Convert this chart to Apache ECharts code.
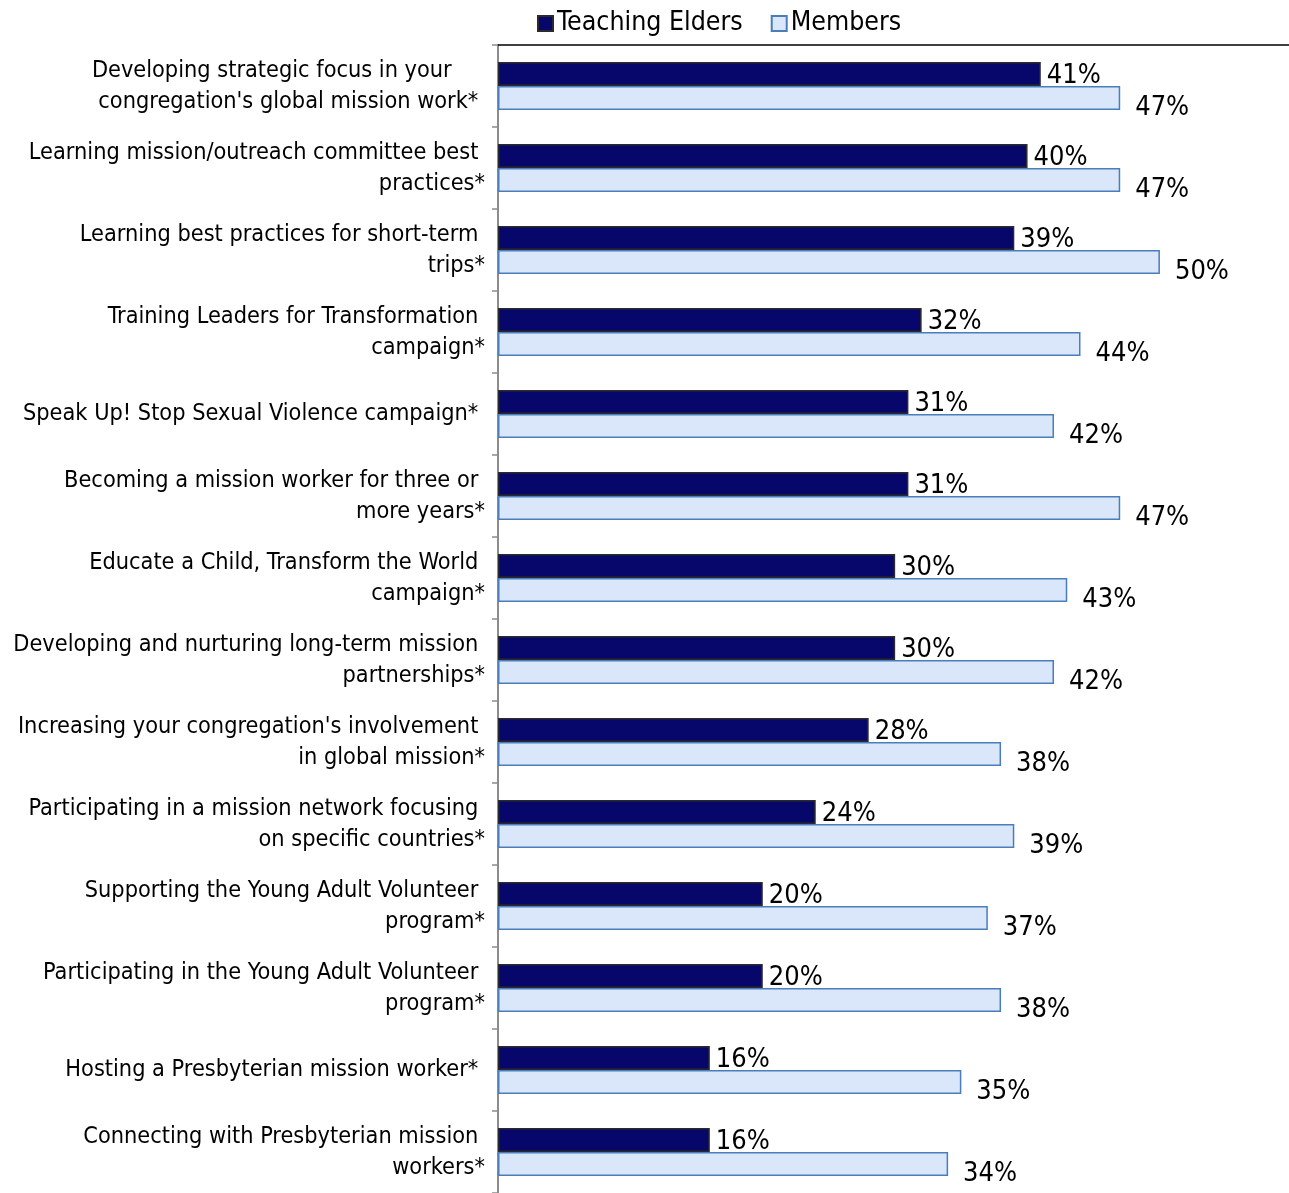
<!DOCTYPE html>
<html>
<head>
<meta charset="utf-8">
<script src="https://cdn.jsdelivr.net/npm/echarts@6/dist/echarts.min.js"></script>
<style>
  html, body { margin: 0; padding: 0; background: #ffffff; }
  #chart { width: 1289px; height: 1193px; }
</style>
</head>
<body>
<div id="chart"></div>
<script>
// Survey topics (top to bottom)
const categories = [
  "Developing strategic focus in your     \ncongregation's global mission work* ",
  "Learning mission/outreach committee best \npractices*",
  "Learning best practices for short-term \ntrips*",
  "Training Leaders for Transformation \ncampaign*",
  "Speak Up! Stop Sexual Violence campaign* ",
  "Becoming a mission worker for three or \nmore years*",
  "Educate a Child, Transform the World \ncampaign*",
  "Developing and nurturing long-term mission \npartnerships*",
  "Increasing your congregation's involvement \nin global mission*",
  "Participating in a mission network focusing \non specific countries*",
  "Supporting the Young Adult Volunteer \nprogram*",
  "Participating in the Young Adult Volunteer \nprogram*",
  "Hosting a Presbyterian mission worker* ",
  "Connecting with Presbyterian mission \nworkers*"
];

// Percent of respondents, per group
const teachingElders = [41, 40, 39, 32, 31, 31, 30, 30, 28, 24, 20, 20, 16, 16];
const members        = [47, 47, 50, 44, 42, 47, 43, 42, 38, 39, 37, 38, 35, 34];

const seriesNames = ["Teaching Elders", "Members"];

const FONT = "'DejaVu Sans Condensed', 'DejaVu Sans', Tahoma, sans-serif";

const chart = echarts.init(document.getElementById('chart'), null, { renderer: 'canvas' });

chart.setOption({
  animation: false,
  backgroundColor: '#ffffff',
  textStyle: { fontFamily: FONT, color: '#000000' },
  legend: {
    data: seriesNames,
    left: 532,
    top: 5,
    icon: 'rect',
    itemWidth: 15,
    itemHeight: 15,
    itemGap: 28,
    textStyle: { fontFamily: FONT, fontSize: 26.5, color: '#000000', padding: [0, 0, 0, -1] }
  },
  grid: { left: 498, right: 0, top: 45, bottom: 0, containLabel: false },
  xAxis: {
    type: 'value',
    position: 'top',
    min: 0,
    max: 59.75,
    axisLine: { show: true, lineStyle: { color: '#000000', width: 1.5 } },
    axisTick: { show: false },
    axisLabel: { show: false },
    splitLine: { show: false }
  },
  yAxis: {
    type: 'category',
    data: categories,
    inverse: true,
    axisLine: { show: true, lineStyle: { color: '#8c8c8c', width: 2 } },
    axisTick: { show: true, length: 6, lineStyle: { color: '#8c8c8c', width: 1.5 } },
    axisLabel: {
      fontFamily: FONT,
      fontSize: 23.3,
      lineHeight: 31,
      color: '#000000',
      margin: 13,
      align: 'right',
      verticalAlign: 'middle',
      padding: [8, 0, 0, 0]
    }
  },
  series: [
    {
      name: seriesNames[0],
      type: 'bar',
      data: teachingElders,
      barWidth: 24,
      barGap: '0%',
      itemStyle: { color: '#06066b', borderColor: '#2a2a2a', borderWidth: 1.5 },
      label: {
        show: true,
        position: 'right',
        distance: 6,
        offset: [0, 2],
        formatter: '{c}%',
        fontFamily: FONT,
        fontSize: 27,
        color: '#000000'
      }
    },
    {
      name: seriesNames[1],
      type: 'bar',
      data: members,
      barWidth: 24,
      itemStyle: { color: '#dae6fa', borderColor: '#4a7ebb', borderWidth: 1.5 },
      label: {
        show: true,
        position: 'right',
        distance: 15,
        offset: [0, 10],
        formatter: '{c}%',
        fontFamily: FONT,
        fontSize: 27,
        color: '#000000'
      }
    }
  ]
});
</script>
</body>
</html>
